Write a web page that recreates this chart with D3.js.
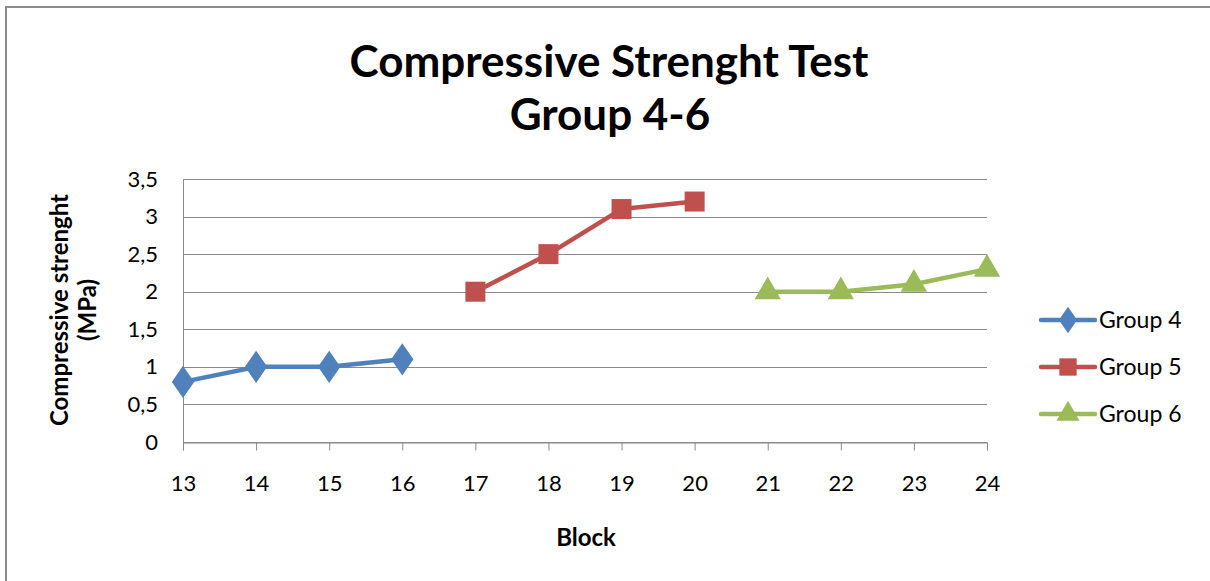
<!DOCTYPE html>
<html><head><meta charset="utf-8">
<script src="https://cdn.jsdelivr.net/npm/d3@7"></script>
<style>
html,body{margin:0;padding:0;background:#fff;}
svg{display:block;font-family:Lato, "Open Sans", sans-serif;}
</style></head>
<body>
<svg id="c" width="1210" height="581"></svg>
<script>
const categories = [13,14,15,16,17,18,19,20,21,22,23,24];
const group4 = [0.8, 1.0, 1.0, 1.1];
const group5 = [2.0, 2.5, 3.1, 3.2];
const group6 = [2.0, 2.0, 2.1, 2.3];
const group4Blocks = [13,14,15,16];
const group5Blocks = [17,18,19,20];
const group6Blocks = [21,22,23,24];
const yTicks = [0,0.5,1,1.5,2,2.5,3,3.5];
const seriesNames = ["Group 4","Group 5","Group 6"];
const colors = ["#4F81BD","#C0504D","#9BBB59"];
const symbols = [d3.symbolDiamond, d3.symbolSquare, d3.symbolTriangle];

const series = [
  {name: seriesNames[0], x: group4Blocks, y: group4},
  {name: seriesNames[1], x: group5Blocks, y: group5},
  {name: seriesNames[2], x: group6Blocks, y: group6}
];

const svg = d3.select("#c");
// border (top + left)
svg.append("line").attr("x1",6).attr("x2",1210).attr("y1",7).attr("y2",7).attr("stroke","#8c8c8c").attr("stroke-width",2);
svg.append("line").attr("x1",6).attr("x2",6).attr("y1",6).attr("y2",581).attr("stroke","#8c8c8c").attr("stroke-width",2);

const L=183, R=987, T=179, B=442;
const x = d3.scalePoint().domain(categories).range([L,R]);
const y = d3.scaleLinear().domain([0,3.5]).range([B,T]);

// gridlines
svg.append("g").selectAll("line").data(yTicks).join("line")
  .attr("x1",L).attr("x2",R).attr("y1",d=>Math.round(y(d))+0.5).attr("y2",d=>Math.round(y(d))+0.5)
  .attr("stroke","#8a8a8a").attr("stroke-width",1);

// y axis line
svg.append("line").attr("x1",L+0.5).attr("x2",L+0.5).attr("y1",T).attr("y2",B).attr("stroke","#8a8a8a");

// x axis
const xa = svg.append("g").attr("transform",`translate(0,${Math.round(B)+0.5})`)
  .call(d3.axisBottom(x).tickSize(8).tickPadding(25));
xa.select(".domain").attr("stroke","#8a8a8a");
xa.selectAll(".tick line").attr("stroke","#8a8a8a");
xa.selectAll("text").attr("font-size",22).attr("fill","#000").attr("font-family","Lato, sans-serif");

// y axis labels
const ya = svg.append("g").attr("transform",`translate(${L},0)`)
  .call(d3.axisLeft(y).tickValues(yTicks).tickSize(0).tickPadding(25).tickFormat(d=>String(d).replace(".",",")));
ya.select(".domain").remove();
ya.selectAll("text").attr("font-size",22).attr("fill","#000").attr("font-family","Lato, sans-serif");

// lines + markers
const line = d3.line().x(d=>x(d[0])).y(d=>y(d[1]));
series.forEach((s,i)=>{
  const pts = s.x.map((v,j)=>[v,s.y[j]]);
  svg.append("path").datum(pts).attr("d",line).attr("fill","none")
    .attr("stroke",colors[i]).attr("stroke-width",4.5).attr("stroke-linejoin","round").attr("stroke-linecap","round");
  const sizes=[300,400,300];
  svg.append("g").selectAll("path").data(pts).join("path")
    .attr("d",d3.symbol().type(symbols[i]).size(sizes[i]))
    .attr("transform",d=>`translate(${x(d[0])},${y(d[1])})`+(i===0?" scale(1.2,1)":""))
    .attr("fill",colors[i]);
});

// title
const title = svg.append("text").attr("text-anchor","middle").attr("font-weight","bold")
  .attr("font-family","Lato, sans-serif").attr("fill","#000");
title.append("tspan").attr("x",609).attr("y",77).attr("font-size",44).text("Compressive Strenght Test");
title.append("tspan").attr("x",610).attr("y",130).attr("font-size",44).text("Group 4-6");

// axis titles
svg.append("text").attr("x",586).attr("y",546).attr("text-anchor","middle").attr("font-weight","bold")
  .attr("font-size",24).text("Block");
const yt = svg.append("text").attr("transform","translate(0,310) rotate(-90)").attr("text-anchor","middle")
  .attr("font-weight","bold").attr("font-size",24);
yt.append("tspan").attr("x",0).attr("y",68).text("Compressive strenght");
yt.append("tspan").attr("x",0).attr("y",96).text("(MPa)");

// legend
const lg = svg.append("g");
const ly=[320,367,414];
seriesNames.forEach((n,i)=>{
  lg.append("line").attr("x1",1041).attr("x2",1095).attr("y1",ly[i]).attr("y2",ly[i])
    .attr("stroke",colors[i]).attr("stroke-width",4.5).attr("stroke-linecap","round");
  lg.append("path").attr("d",d3.symbol().type(symbols[i]).size([200,300,230][i])())
    .attr("transform",`translate(1068,${ly[i]})`+(i===0?" scale(1.2,1)":"")).attr("fill",colors[i]);
  lg.append("text").attr("x",1099).attr("y",ly[i]).attr("dy","0.36em").attr("font-size",23).text(n);
});
</script>
</body></html>
